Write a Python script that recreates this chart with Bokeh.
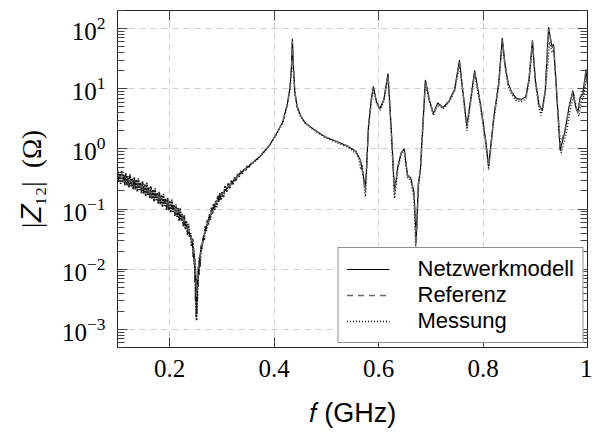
from bokeh.plotting import figure
from bokeh.models import (FixedTicker, LinearAxis, LogAxis, Legend, LegendItem,
                          CustomJSTickFormatter, ColumnDataSource)
from bokeh.embed import file_html
from bokeh.resources import INLINE

# ---------------- data ----------------
f_ref = [0.100, 0.125, 0.152, 0.175, 0.202, 0.215, 0.2266, 0.235, 0.2422, 0.2465,
         0.2495, 0.2515, 0.2535, 0.2555, 0.2577, 0.262, 0.267, 0.2763, 0.2888, 0.3075,
         0.332, 0.347, 0.3727, 0.391, 0.403, 0.4164, 0.4255, 0.4305, 0.4335, 0.4348,
         0.4365, 0.4395, 0.444, 0.452, 0.4596, 0.478, 0.497, 0.522, 0.540, 0.556,
         0.565, 0.570, 0.5746, 0.5775, 0.5807, 0.586, 0.590, 0.596, 0.6025, 0.610,
         0.618, 0.624, 0.6305, 0.6366, 0.643, 0.649, 0.6553, 0.6616, 0.6678, 0.672,
         0.676, 0.680, 0.6896, 0.697, 0.705, 0.713, 0.7237, 0.735, 0.7455, 0.7548,
         0.762, 0.769, 0.7839, 0.795, 0.8044, 0.8107, 0.820, 0.830, 0.8368, 0.842,
         0.848, 0.855, 0.8635, 0.8728, 0.882, 0.888, 0.8946, 0.900, 0.907, 0.913,
         0.919, 0.9255, 0.9319, 0.935, 0.940, 0.9475, 0.957, 0.965, 0.972, 0.977,
         0.9815, 0.986, 0.9908, 0.995, 0.997, 1.000]

z_ref = [0.36, 0.29, 0.22, 0.165, 0.115, 0.090, 0.066, 0.046, 0.031, 0.018,
         0.009, 0.0035, 0.008, 0.012, 0.016, 0.026, 0.040, 0.075, 0.13, 0.21,
         0.37, 0.48, 0.75, 1.15, 1.7, 2.8, 5.6, 10.5, 25, 62,
         25, 9.0, 5.0, 3.4, 2.7, 2.05, 1.6, 1.3, 1.12, 0.92,
         0.65, 0.38, 0.20, 0.6, 2.4, 6.5, 10.5, 6.0, 4.6, 6.5,
         17, 2.2, 0.18, 0.5, 0.85, 1.0, 0.36, 0.32, 0.18, 0.025,
         0.25, 0.45, 13.5, 6.5, 3.8, 5.7, 4.8, 6.2, 9.5, 28,
         8, 2.3, 19, 5.5, 1.5, 0.5, 3, 12, 66, 25,
         12, 8.5, 6.8, 6.5, 7.2, 14, 62, 14, 5.5, 4.2,
         9, 100, 48, 52, 12, 1.1, 2.1, 5, 9, 5,
         4, 7, 8, 14, 20, 12]

z_model = [0.35, 0.29, 0.22, 0.165, 0.115, 0.090, 0.066, 0.046, 0.030, 0.017,
           0.008, 0.003, 0.007, 0.011, 0.016, 0.026, 0.040, 0.075, 0.13, 0.21,
           0.37, 0.48, 0.75, 1.15, 1.7, 2.8, 5.7, 11, 27, 68,
           26, 9.0, 5.0, 3.4, 2.7, 2.05, 1.6, 1.3, 1.12, 0.92,
           0.66, 0.40, 0.22, 0.6, 2.5, 6.8, 11, 6.0, 4.7, 6.6,
           18, 2.3, 0.19, 0.5, 0.85, 1.0, 0.37, 0.33, 0.19, 0.03,
           0.26, 0.46, 14, 6.6, 3.9, 5.8, 4.9, 6.3, 9.8, 30,
           8.2, 2.4, 20, 5.6, 1.55, 0.52, 3.1, 12.5, 70, 26,
           12.5, 8.7, 7.0, 6.6, 7.4, 14.5, 64, 14.5, 5.6, 4.3,
           9.2, 105, 50, 55, 12, 0.95, 2.0, 5.2, 9.3, 5.1,
           4.1, 7.2, 8.3, 14.5, 21, 12]

# noisy measured trace below ~0.36 GHz (dense band in the picture)
f_meas_low = [0.100, 0.102, 0.104, 0.106, 0.108, 0.110, 0.112, 0.114, 0.116, 0.118,
              0.120, 0.122, 0.124, 0.126, 0.128, 0.130, 0.132, 0.134, 0.136, 0.138,
              0.140, 0.142, 0.144, 0.146, 0.148, 0.150, 0.152, 0.154, 0.156, 0.158,
              0.160, 0.162, 0.164, 0.166, 0.168, 0.170, 0.172, 0.174, 0.176, 0.178,
              0.180, 0.182, 0.184, 0.186, 0.188, 0.190, 0.192, 0.194, 0.196, 0.198,
              0.200, 0.202, 0.204, 0.206, 0.208, 0.210, 0.212, 0.214, 0.216, 0.218,
              0.220, 0.222, 0.224, 0.226, 0.228, 0.230, 0.232, 0.234, 0.236, 0.238,
              0.240, 0.242, 0.244, 0.245, 0.246, 0.247, 0.248, 0.2485, 0.249, 0.2495,
              0.250, 0.2505, 0.251, 0.2513, 0.2517, 0.252, 0.2525, 0.253, 0.2535, 0.254,
              0.255, 0.256, 0.257, 0.258, 0.260, 0.262, 0.264, 0.266, 0.268, 0.270,
              0.272, 0.274, 0.276, 0.278, 0.280, 0.282, 0.284, 0.286, 0.288, 0.290,
              0.292, 0.294, 0.296, 0.298, 0.300, 0.303, 0.306, 0.309, 0.312, 0.315,
              0.318, 0.321, 0.324, 0.327, 0.330, 0.333, 0.336, 0.339, 0.342, 0.345,
              0.348, 0.352, 0.356, 0.360]

z_meas_low = [0.45, 0.284, 0.413, 0.262, 0.442, 0.277, 0.374, 0.25, 0.394, 0.248,
              0.354, 0.228, 0.377, 0.239, 0.322, 0.215, 0.338, 0.212, 0.307, 0.194,
              0.325, 0.206, 0.276, 0.183, 0.288, 0.18, 0.26, 0.163, 0.273, 0.172,
              0.23, 0.152, 0.238, 0.148, 0.212, 0.133, 0.221, 0.14, 0.187, 0.123,
              0.193, 0.12, 0.172, 0.108, 0.179, 0.113, 0.15, 0.098, 0.154, 0.096,
              0.138, 0.087, 0.144, 0.09, 0.118, 0.077, 0.119, 0.074, 0.104, 0.064,
              0.104, 0.064, 0.083, 0.052, 0.079, 0.046, 0.064, 0.037, 0.057, 0.034,
              0.040, 0.024, 0.0325, 0.016, 0.022, 0.012, 0.015, 0.006, 0.010, 0.003,
              0.007, 0.0016, 0.005, 0.0014, 0.004, 0.0018, 0.006, 0.003, 0.008, 0.005,
              0.011, 0.008, 0.016, 0.011, 0.025, 0.022, 0.035, 0.030, 0.052, 0.043,
              0.066, 0.054, 0.082, 0.066, 0.106, 0.084, 0.123, 0.096, 0.137, 0.108,
              0.168, 0.13, 0.185, 0.141, 0.196, 0.156, 0.246, 0.194, 0.27, 0.218,
              0.297, 0.256, 0.336, 0.293, 0.385, 0.345, 0.432, 0.39, 0.47, 0.432,
              0.515, 0.50, 0.58, 0.59]

f_meas_high = [0.3727, 0.391, 0.403, 0.4164, 0.4255, 0.4305, 0.4335, 0.4350, 0.4368, 0.4395,
               0.444, 0.452, 0.4596, 0.478, 0.497, 0.522, 0.540, 0.556, 0.562, 0.566,
               0.569, 0.572, 0.5746, 0.5765, 0.578, 0.5807, 0.586, 0.590, 0.596, 0.6025,
               0.610, 0.618, 0.624, 0.6305, 0.6366, 0.643, 0.649, 0.6553, 0.6616, 0.6678,
               0.671, 0.676, 0.680, 0.6896, 0.697, 0.705, 0.713, 0.7237, 0.735, 0.7455,
               0.7548, 0.762, 0.769, 0.7839, 0.795, 0.8044, 0.8107, 0.820, 0.830, 0.8368,
               0.842, 0.848, 0.855, 0.8635, 0.8728, 0.882, 0.888, 0.8946, 0.900, 0.907,
               0.911, 0.915, 0.920, 0.9275, 0.9319, 0.9355, 0.941, 0.9495, 0.959, 0.967,
               0.974, 0.979, 0.9835, 0.988, 0.992, 0.996, 0.998, 1.0]

z_meas_high = [0.74, 1.12, 1.65, 2.7, 5.4, 10, 22, 58, 22, 8.5,
               4.8, 3.3, 2.65, 2.0, 1.55, 1.25, 1.08, 0.85, 0.7, 0.45,
               0.55, 0.25, 0.16, 0.3, 0.9, 2.2, 6, 10, 5.8, 4.4,
               6.2, 16, 2.0, 0.15, 0.45, 0.8, 0.95, 0.34, 0.3, 0.15,
               0.021, 0.22, 0.42, 12.5, 6.2, 3.6, 5.4, 4.6, 6, 9,
               25, 7.5, 2.0, 18, 5, 1.3, 0.45, 2.8, 11, 60,
               23, 11, 8, 6.3, 6.0, 6.8, 13, 55, 13, 4.8,
               3.6, 5, 10, 60, 40, 44, 8, 0.85, 1.8, 4.5,
               8, 4.6, 3.5, 6, 7, 12, 18, 11]

x_ticks = [0.2, 0.4, 0.6, 0.8, 1.0]
y_ticks = [1e-3, 1e-2, 1e-1, 1e0, 1e1, 1e2]
labels = ["Netzwerkmodell", "Referenz", "Messung"]

# ---------------- figure ----------------
SERIF = "Liberation Serif"
SANS = "Liberation Sans"

p = figure(width=592, height=430, x_range=(0.1, 1.0), y_range=(5e-4, 200),
           y_axis_type="log", output_backend="svg", toolbar_location=None,
           min_border_left=117, min_border_right=5, min_border_top=10,
           min_border_bottom=82)
p.background_fill_color = "white"
p.border_fill_color = "white"
p.outline_line_color = "#222222"
p.outline_line_width = 1

y_minor = [m * 10.0 ** e for e in range(-4, 3) for m in range(2, 10)]
xt = FixedTicker(ticks=x_ticks, minor_ticks=[])
yt = FixedTicker(ticks=y_ticks, minor_ticks=y_minor)

p.xaxis.ticker = xt
p.yaxis.ticker = yt
p.xgrid.ticker = FixedTicker(ticks=x_ticks, minor_ticks=[])
p.ygrid.ticker = FixedTicker(ticks=y_ticks, minor_ticks=[])
for g in (p.xgrid, p.ygrid):
    g.grid_line_color = "#cfcfcf"
    g.grid_line_dash = "6 5"
    g.grid_line_width = 1

p.xaxis.formatter = CustomJSTickFormatter(
    code="return (Math.abs(tick - 1) < 1e-9) ? '1' : tick.toFixed(1);")

for ax in (p.xaxis, p.yaxis):
    ax.major_label_text_font = SERIF
    ax.major_label_text_font_size = "25px"
    ax.major_label_text_color = "black"
    ax.axis_line_color = "#222222"
    ax.major_tick_line_color = "#444444"
    ax.minor_tick_line_color = "#444444"
    ax.major_tick_in = 10
    ax.major_tick_out = 0
    ax.minor_tick_in = 7
    ax.minor_tick_out = 0

p.xaxis.major_label_standoff = 12
p.yaxis.major_label_standoff = 12

p.xaxis.axis_label = "𝑓 (GHz)"
p.xaxis.axis_label_text_font = SANS
p.xaxis.axis_label_text_font_style = "normal"
p.xaxis.axis_label_text_font_size = "27px"
p.xaxis.axis_label_text_color = "black"
p.xaxis.axis_label_standoff = 18

p.yaxis.axis_label = "|𝑍₁₂|\u2002(Ω)"
p.yaxis.axis_label_text_font = SERIF
p.yaxis.axis_label_text_font_style = "normal"
p.yaxis.axis_label_text_font_size = "27px"
p.yaxis.axis_label_text_color = "black"
p.yaxis.axis_label_standoff = 12

blank = CustomJSTickFormatter(code="return '';")
top = LinearAxis(ticker=xt, formatter=blank, major_tick_in=10, major_tick_out=0,
                 minor_tick_in=0, minor_tick_out=0, major_label_standoff=0,
                 major_label_text_font_size="0px",
                 axis_line_color="#222222", major_tick_line_color="#444444")
p.add_layout(top, "above")
right = LogAxis(ticker=yt, formatter=blank, major_tick_in=10, major_tick_out=0,
                minor_tick_in=7, minor_tick_out=0, major_label_standoff=0,
                major_label_text_font_size="0px",
                axis_line_color="#222222", major_tick_line_color="#444444",
                minor_tick_line_color="#444444")
p.add_layout(right, "right")

# ---------------- lines ----------------
src_ref = ColumnDataSource(dict(f=f_ref, ref=z_ref, model=z_model))
src_low = ColumnDataSource(dict(f=f_meas_low + f_meas_high[:1],
                                z=z_meas_low + z_meas_high[:1]))
src_high = ColumnDataSource(dict(f=f_meas_high, z=z_meas_high))

p.line("f", "z", source=src_low, line_color="#1a1a1a",
       line_width=1.7, line_dash="2 1")
r_meas = p.line("f", "z", source=src_high, line_color="#111111",
                line_width=1.4, line_dash="1 2")
r_model = p.line("f", "model", source=src_ref, line_color="black", line_width=1.1)
r_ref = p.line("f", "ref", source=src_ref, line_color="#666666",
               line_width=1.5, line_dash="6 5")

legend = Legend(items=[LegendItem(label=labels[0], renderers=[r_model]),
                       LegendItem(label=labels[1], renderers=[r_ref]),
                       LegendItem(label=labels[2], renderers=[r_meas])],
                location="bottom_right")
legend.label_text_font = SANS
legend.label_text_font_size = "22px"
legend.label_text_color = "black"
legend.glyph_width = 43
legend.glyph_height = 24
legend.label_height = 24
legend.label_standoff = 28
legend.padding = 8
legend.spacing = 0
legend.margin = 4
legend.border_line_color = "#222222"
legend.border_line_width = 1
legend.background_fill_color = "white"
legend.background_fill_alpha = 1.0
p.add_layout(legend, "center")

open("out.html", "w").write(file_html(p, INLINE))
